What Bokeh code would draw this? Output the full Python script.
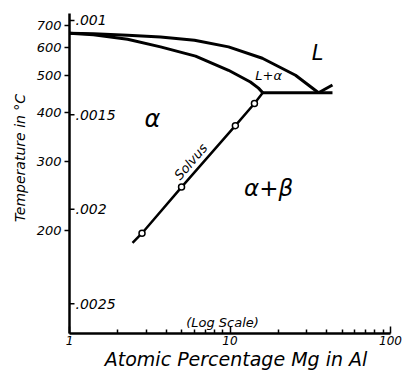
import math
from bokeh.plotting import figure
from bokeh.models import Range1d, FixedTicker, CustomJSTickFormatter
from bokeh.core.properties import value
from bokeh.embed import file_html
from bokeh.resources import INLINE

# ---- data (Mg in at.%, temperature in deg C) ----
temp_ticks_c = [700, 600, 500, 400, 300, 200]
recip_ticks = [0.001, 0.0015, 0.002, 0.0025]
recip_labels = [".001", ".0015", ".002", ".0025"]
x_ticks = [1, 10, 100]

liq_mg = [1.0, 1.41, 2.3, 3.69, 6.01, 9.79, 15.9, 25.6, 35.6]
liq_t = [663, 661, 654, 646, 632, 604, 560, 502, 450]
sol_mg = [1.0, 1.41, 2.3, 3.69, 6.1, 9.79, 13.4, 15.05, 16.0]
sol_t = [663, 656, 636, 604, 568, 518, 481, 463, 450]
eut_mg = [16.0, 43.5]
eut_t = [450, 450]
beta_liq_mg = [35.6, 43.5]
beta_liq_t = [450, 472]
solvus_mg = [16.0, 14.2, 10.8, 4.99, 2.83, 2.47]
solvus_t = [450, 421.5, 369, 258, 197, 186]
pts_mg = [14.2, 10.8, 4.99, 2.83]
pts_t = [421.5, 369, 258, 197]

region_text = ["L", "L+α", "α", "α+β"]
region_mg = [35.1, 17.4, 3.29, 17.4]
region_t = [578, 502, 384, 256]
region_size = ["21px", "13px", "24px", "23px"]


def inv(ts):
    return [1.0 / (t + 273.15) for t in ts]


FONT = value("DejaVu Sans")

p = figure(width=405, height=372, x_axis_type="log",
           x_range=Range1d(1, 100), y_range=Range1d(0.002658, 0.0009632),
           output_backend="svg", toolbar_location=None,
           min_border_left=69, min_border_right=15,
           min_border_top=13, min_border_bottom=37)
p.outline_line_color = None
p.grid.visible = False
p.background_fill_color = "white"
p.border_fill_color = "white"

xa = p.xaxis[0]
minor = [m * 10 ** e for e in (0, 1) for m in range(2, 10)]
xa.ticker = FixedTicker(ticks=x_ticks, minor_ticks=minor)
xa.formatter = CustomJSTickFormatter(code="return String(tick)")
xa.major_tick_in = 7
xa.major_tick_out = 0
xa.minor_tick_in = 4
xa.minor_tick_out = 0
xa.axis_line_width = 2.5
xa.major_tick_line_width = 1.5
xa.minor_tick_line_width = 1.5
xa.major_label_text_font = "DejaVu Sans"
xa.major_label_text_font_style = "italic"
xa.major_label_text_font_size = "12px"
xa.major_label_standoff = 2
xa.major_label_text_color = "#000000"
xa.axis_label = "\u00a0\u00a0Atomic Percentage Mg in Al"
xa.axis_label_standoff = 0
xa.axis_label_text_font = "DejaVu Sans"
xa.axis_label_text_font_style = "italic"
xa.axis_label_text_font_size = "19px"
xa.axis_label_text_color = "#000000"

ya = p.yaxis[0]
ya.ticker = FixedTicker(ticks=inv(temp_ticks_c), minor_ticks=[])
ya.formatter = CustomJSTickFormatter(code="return String(Math.round(1/tick - 273.15))")
ya.major_tick_in = 0
ya.major_tick_out = 5
ya.axis_line_width = 2.5
ya.major_tick_line_width = 1.5
ya.major_label_text_font = "DejaVu Sans"
ya.major_label_text_font_style = "italic"
ya.major_label_text_font_size = "13px"
ya.major_label_standoff = 3
ya.major_label_text_color = "#000000"
ya.axis_label = "\u00a0" * 7 + "Temperature in °C"
ya.axis_label_standoff = 6
ya.axis_label_text_font = "DejaVu Sans"
ya.axis_label_text_font_style = "italic"
ya.axis_label_text_font_size = "14px"
ya.axis_label_text_color = "#000000"

# reciprocal temperature scale (inner ticks and labels)
p.ray(x=[1] * len(recip_ticks), y=recip_ticks, length=5, length_units="screen",
      angle=0, line_width=1.5, line_color="black")
p.text(x=[1] * len(recip_ticks), y=recip_ticks, text=recip_labels, x_offset=6,
       text_baseline="middle", text_align="left", text_font=FONT,
       text_font_style="italic", text_font_size="14px", text_color="black")

# phase boundaries
for xs, ts in [(liq_mg, liq_t), (sol_mg, sol_t), (eut_mg, eut_t),
               (beta_liq_mg, beta_liq_t)]:
    p.line(xs, inv(ts), line_width=3, line_color="black", line_join="round")
p.line(solvus_mg, inv(solvus_t), line_width=2.5, line_color="black")
p.scatter(pts_mg, inv(pts_t), size=6, fill_color="white", line_color="black",
          line_width=1.5)

# region labels
for txt, xm, tc, sz in zip(region_text, region_mg, region_t, region_size):
    p.text(x=[xm], y=inv([tc]), text=[txt], text_align="center",
           text_baseline="middle", text_font=FONT, text_font_style="italic",
           text_font_size=sz, text_color="black")

p.text(x=[5.7], y=inv([299]), text=["Solvus"], angle=0.86, text_align="center",
       text_baseline="middle", text_font=FONT, text_font_style="italic",
       text_font_size="13px", text_color="black")
p.text(x=[8.98], y=[0.0026], text=["(Log Scale)"], text_align="center",
       text_baseline="middle", text_font=FONT, text_font_style="italic",
       text_font_size="13px", text_color="black")

open("out.html", "w").write(file_html(p, INLINE))
